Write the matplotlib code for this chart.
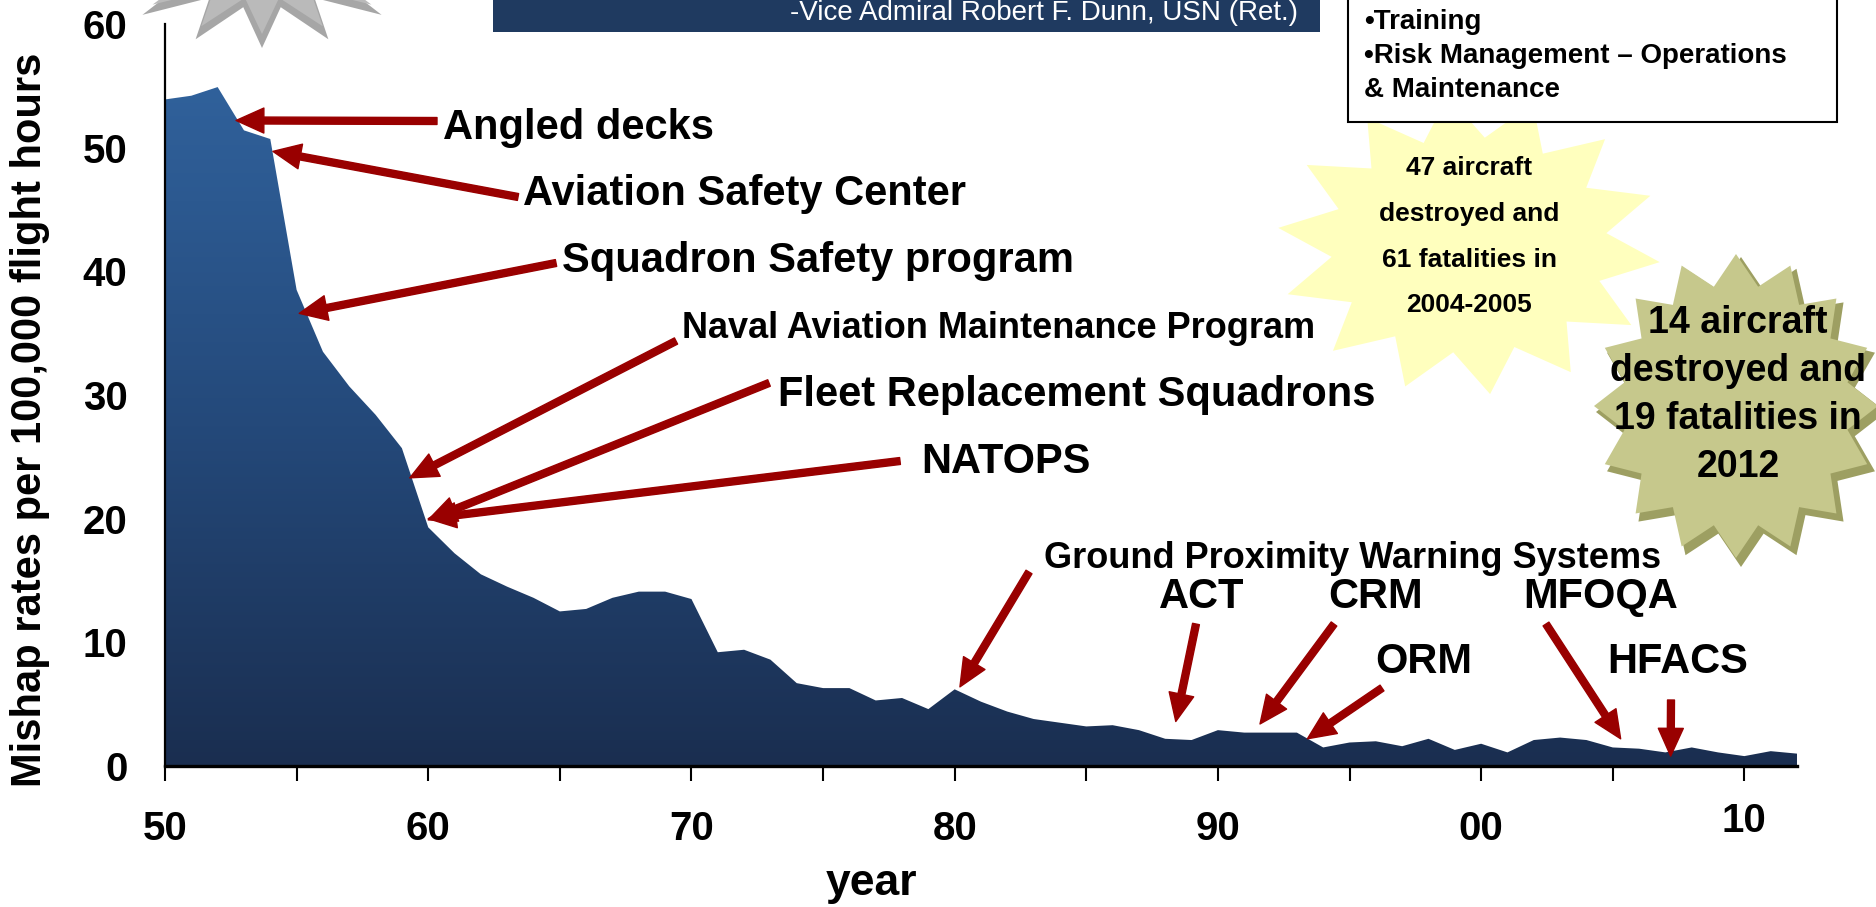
import numpy as np
import matplotlib.pyplot as plt
import matplotlib.transforms as mtransforms
from matplotlib.colors import LinearSegmentedColormap
from matplotlib.patches import Polygon, Rectangle

plt.rcParams['font.family'] = ['Liberation Sans', 'DejaVu Sans']
plt.rcParams['font.weight'] = 'bold'

# Navy / Marine Corps class A mishap rate per 100,000 flight hours
years = list(range(1950, 2013))
rates = [53.9, 54.2, 54.9, 51.4, 50.7, 38.5, 33.5, 30.7, 28.4, 25.7,
         19.3, 17.2, 15.5, 14.5, 13.6, 12.5, 12.7, 13.6, 14.1, 14.1,
         13.5, 9.2, 9.4, 8.6, 6.7, 6.3, 6.3, 5.3, 5.5, 4.6,
         6.2, 5.2, 4.4, 3.8, 3.5, 3.2, 3.3, 2.9, 2.2, 2.1,
         2.9, 2.7, 2.7, 2.7, 1.5, 1.9, 2.0, 1.6, 2.2, 1.3,
         1.8, 1.1, 2.1, 2.3, 2.1, 1.5, 1.4, 1.1, 1.5, 1.1,
         0.8, 1.2, 1.0]

xtick_years = [1950, 1960, 1970, 1980, 1990, 2000, 2010]
xtick_labels = ['50', '60', '70', '80', '90', '00', '10']

# milestones: label, year and rate the arrow points at
milestones = ['Angled decks', 'Aviation Safety Center', 'Squadron Safety program',
              'Naval Aviation Maintenance Program', 'Fleet Replacement Squadrons',
              'NATOPS', 'Ground Proximity Warning Systems',
              'ACT', 'CRM', 'ORM', 'MFOQA', 'HFACS']
milestone_year = [1952.7, 1954.1, 1955.1, 1959.3, 1960.0, 1960.0, 1980.2,
                  1988.4, 1991.6, 1993.4, 2005.3, 2007.2]
milestone_rate = [52.2, 49.7, 36.6, 23.3, 19.9, 20.0, 6.4,
                  3.6, 3.4, 2.2, 2.2, 0.8]

burst1_lines = ['47 aircraft', 'destroyed and', '61 fatalities in', '2004-2005']
burst2_lines = ['14 aircraft', 'destroyed and', '19 fatalities in', '2012']
box_lines = ['\u2022Training', '\u2022Risk Management \u2013 Operations', '& Maintenance']
quote_credit = '-Vice Admiral Robert F. Dunn, USN (Ret.)'

W, H = 1876, 907
fig = plt.figure(figsize=(W / 100, H / 100), dpi=100)


def fx(x):
    return x / W


def fy(y):
    return 1 - y / H


ax = fig.add_axes([fx(165), fy(766), (1797 - 165) / W, (766 - 24) / H])

# gradient filled area
poly = ax.fill_between(years, rates, 0, facecolor='none', edgecolor='none')
cmap = LinearSegmentedColormap.from_list('navy', ['#1a2e50', '#24497a', '#30619b'])
grad = np.linspace(0, 1, 256).reshape(-1, 1)
im = ax.imshow(grad, extent=[1950, 2012, 0, max(rates)], origin='lower',
               aspect='auto', cmap=cmap, zorder=1)
im.set_clip_path(poly.get_paths()[0], transform=ax.transData)

ax.set_xlim(1950, 2012)
ax.set_ylim(0, 60)
ax.set_yticks(range(0, 61, 10))
ax.set_xticks(xtick_years)
ax.set_xticklabels(xtick_labels)
ax.set_xticks([y + 5 for y in xtick_years[:-1]], minor=True)
ax.tick_params(axis='y', length=0, pad=27, labelsize=29)
ax.tick_params(axis='x', which='both', length=11, width=1.5, direction='out',
               pad=21, labelsize=29)
for s in ['top', 'right']:
    ax.spines[s].set_visible(False)
ax.spines['left'].set_linewidth(1.6)
ax.spines['bottom'].set_linewidth(2.4)
ax.spines['bottom'].set_zorder(5)

# the "10" label sits a bit higher in the original
lab10 = ax.get_xticklabels()[-1]
lab10.set_transform(lab10.get_transform() +
                    mtransforms.ScaledTranslation(0, 8 / 100, fig.dpi_scale_trans))

fig.text(fx(30), fy(420), 'Mishap rates per 100,000 flight hours', rotation=90,
         ha='center', va='center', fontsize=30)
fig.text(fx(871), fy(884), 'year', ha='center', va='center', fontsize=32)

# arrows and their labels
text_pos = [(443, 128, 'left', 30), (523, 194, 'left', 30), (562, 261, 'left', 30),
            (682, 329, 'left', 26), (778, 395, 'left', 30), (921, 462, 'left', 30),
            (1044, 559, 'left', 26), (1202, 597, 'center', 30), (1376, 597, 'center', 30),
            (1424, 662, 'center', 30), (1601, 597, 'center', 30), (1678, 662, 'center', 30)]
tails = [(437, 121), (518, 197), (556, 263), (676, 341), (769, 383), (900, 461),
         (1029, 572), (1196, 624), (1334, 624), (1382, 688), (1546, 624), (1671, 700)]
for lab, yr, rt, (tx, ty, ha, fs), (ax_, ay_) in zip(milestones, milestone_year,
                                                     milestone_rate, text_pos, tails):
    ax.annotate('', xy=(yr, rt), xycoords='data',
                xytext=(ax_, H - ay_), textcoords='figure pixels',
                arrowprops=dict(arrowstyle='simple,head_length=2.0,head_width=1.8,tail_width=0.5',
                                mutation_scale=10, color='#990000', shrinkA=0, shrinkB=0),
                zorder=6)
    fig.text(fx(tx), fy(ty), lab, ha=ha, va='center', fontsize=fs, color='black')


def star(cx, cy, rx, ry, n, inner, rot=0.0):
    pts = []
    for i in range(2 * n):
        a = np.pi * i / n + rot
        r = 1.0 if i % 2 == 0 else inner
        pts.append((fx(cx + rx * r * np.sin(a)), fy(cy + ry * r * np.cos(a))))
    return pts


# grey burst at top left (mostly cut off)
fig.add_artist(Polygon(star(262, -40, 153, 88, 14, 0.55), closed=True,
                       facecolor='#a6a6a6', edgecolor='none', transform=fig.transFigure))
fig.add_artist(Polygon(star(262, -44, 140, 78, 14, 0.55), closed=True,
                       facecolor='#bababa', edgecolor='none', transform=fig.transFigure))

# quote banner
fig.add_artist(Rectangle((fx(493), fy(32)), (1320 - 493) / W, 40 / H,
                         facecolor='#1f3a60', edgecolor='none', transform=fig.transFigure))
fig.text(fx(1298), fy(20), quote_credit, ha='right', va='baseline', fontsize=20,
         fontweight='normal', color='white')

# yellow burst
fig.add_artist(Polygon(star(1469, 245, 192, 150, 14, 0.72, rot=0.11), closed=True,
                       facecolor='#ffffbe', edgecolor='none', transform=fig.transFigure,
                       zorder=2))
for i, line in enumerate(burst1_lines):
    fig.text(fx(1469), fy(168 + 45.8 * i), line, ha='center', va='center',
             fontsize=19, zorder=4)

# box top right
fig.add_artist(Rectangle((fx(1348), fy(122)), (1837 - 1348) / W, 130 / H,
                         facecolor='white', edgecolor='black', linewidth=1.5,
                         transform=fig.transFigure, zorder=3))
for i, line in enumerate(box_lines):
    fig.text(fx(1364), fy(22 + 34 * i), line, ha='left', va='center', fontsize=20, zorder=4)

# olive burst with a bevel
fig.add_artist(Polygon(star(1741, 412, 145, 155, 16, 0.8), closed=True,
                       facecolor='#9d9f62', edgecolor='none', transform=fig.transFigure,
                       zorder=2.5))
fig.add_artist(Polygon(star(1736, 406, 142, 152, 16, 0.8), closed=True,
                       facecolor='#c6c88c', edgecolor='none', transform=fig.transFigure,
                       zorder=2.6))
for i, line in enumerate(burst2_lines):
    fig.text(fx(1738), fy(323 + 48 * i), line, ha='center', va='center',
             fontsize=27, zorder=4)

fig.savefig('out.png', dpi=100)
